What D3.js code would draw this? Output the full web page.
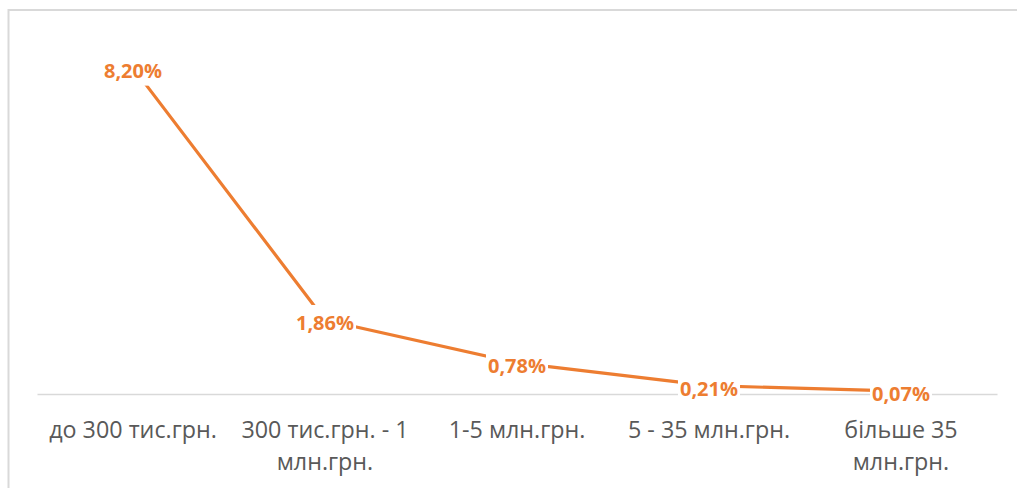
<!DOCTYPE html>
<html>
<head>
<meta charset="utf-8">
<script src="https://cdn.jsdelivr.net/npm/d3@7"></script>
<style>
  html, body { margin: 0; padding: 0; background: #ffffff; }
  svg { display: block; }
</style>
</head>
<body>
<svg id="chart" width="1017" height="488"></svg>
<script>
// Share of each revenue group, per cent
const categories = [
  "до 300 тис.грн.",
  "300 тис.грн. - 1 млн.грн.",
  "1-5 млн.грн.",
  "5 - 35 млн.грн.",
  "більше 35 млн.грн."
];
// Axis labels as they wrap under each category
const tickLines = [
  ["до 300 тис.грн."],
  ["300 тис.грн. - 1", "млн.грн."],
  ["1-5 млн.грн."],
  ["5 - 35 млн.грн."],
  ["більше 35", "млн.грн."]
];
const values = [8.20, 1.86, 0.78, 0.21, 0.07];
const yDomain = [0, 9];

const ORANGE = "#ED7D31";
const GRID = "#d9d9d9";
const TEXT = "#595959";
const FONT = "'Open Sans', 'Noto Sans', sans-serif";

const svg = d3.select("#chart");

// outer chart frame (runs off the right and bottom edges)
svg.append("rect")
  .attr("x", 8.5).attr("y", 10)
  .attr("width", 1100).attr("height", 600)
  .attr("fill", "#fff")
  .attr("stroke", GRID).attr("stroke-width", 2);

const x = d3.scaleBand().domain(categories).range([37, 997]);
const y = d3.scaleLinear().domain(yDomain).range([394, 35.8]);
const cx = d => x(d) + x.bandwidth() / 2;

// category axis
const axis = svg.append("g")
  .attr("transform", `translate(0,${y(0)})`)
  .call(d3.axisBottom(x).tickSize(0).tickSizeOuter(0).tickPadding(0));
axis.select(".domain").attr("stroke", GRID).attr("stroke-width", 1.5);
axis.selectAll(".tick text").remove();
axis.selectAll(".tick").each(function(d, i) {
  const t = d3.select(this).append("text")
    .attr("fill", TEXT)
    .attr("font-family", FONT)
    .attr("font-size", "23.3px")
    .attr("text-anchor", "middle");
  tickLines[i].forEach((line, j) => {
    t.append("tspan").attr("x", 0).attr("y", 44 + j * 32).text(line);
  });
});

// series line
const pts = categories.map((c, i) => ({ c, v: values[i] }));
svg.append("path")
  .datum(pts)
  .attr("fill", "none")
  .attr("stroke", ORANGE)
  .attr("stroke-width", 3.2)
  .attr("stroke-linejoin", "round")
  .attr("stroke-linecap", "round")
  .attr("d", d3.line().x(d => cx(d.c)).y(d => y(d.v)));

// value labels, centred on each point over a white box
const fmt = v => v.toFixed(2).replace(".", ",") + "%";
const labels = svg.append("g");
pts.forEach(d => {
  const g = labels.append("g");
  const box = g.append("rect").attr("fill", "#fff");
  const t = g.append("text")
    .attr("x", cx(d.c))
    .attr("y", y(d.v) + 3)
    .attr("dy", "0.36em")
    .attr("text-anchor", "middle")
    .attr("font-family", FONT)
    .attr("font-weight", 700)
    .attr("font-size", "20px")
    .attr("fill", ORANGE)
    .text(fmt(d.v));
  const bb = t.node().getBBox();
  const mid = y(d.v) + 3;
  box.attr("x", bb.x - 2).attr("width", bb.width + 4)
     .attr("y", mid - 18).attr("height", 33);
});
</script>
</body>
</html>
